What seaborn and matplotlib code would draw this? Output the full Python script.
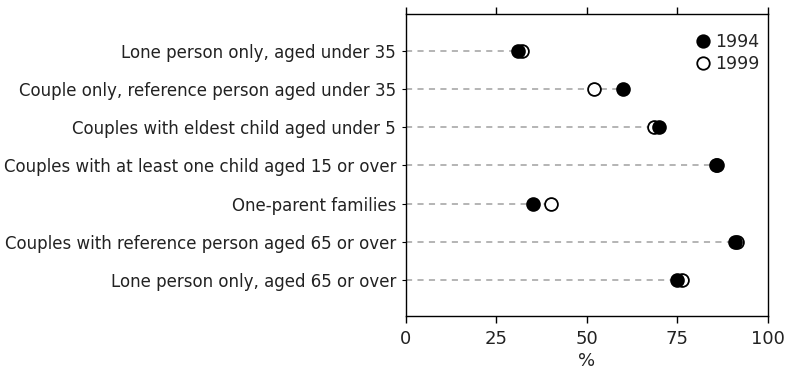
import matplotlib
matplotlib.use("Agg")
import matplotlib.pyplot as plt
import seaborn as sns
import pandas as pd
from matplotlib.lines import Line2D

categories = [
    "Lone person only, aged under 35",
    "Couple only, reference person aged under 35",
    "Couples with eldest child aged under 5",
    "Couples with at least one child aged 15 or over",
    "One-parent families",
    "Couples with reference person aged 65 or over",
    "Lone person only, aged 65 or over",
]
values_1994 = [31, 60, 70, 86, 35, 91, 75]
values_1999 = [32, 52, 68.5, 85.6, 40, 91.5, 76.3]
x_ticks = [0, 25, 50, 75, 100]

sns.set_theme(style="white")
plt.rcParams['font.family'] = ['DejaVu Sans']

df = pd.DataFrame({"cat": categories, "y1994": values_1994, "y1999": values_1999})
df["pos"] = range(len(df))
df["maxv"] = df[["y1994", "y1999"]].max(axis=1)

fig = plt.figure(figsize=(7.86, 3.71), dpi=100)
ax = fig.add_axes([0.5165, 0.148, 0.4605, 0.814])

for _, r in df.iterrows():
    ax.plot([0, r["maxv"]], [r["pos"], r["pos"]], color="#a0a0a0", lw=1.1,
            dashes=(4, 3.5), zorder=1)

sns.scatterplot(data=df, x="y1999", y="pos", ax=ax, s=85, color="white",
                edgecolor="black", linewidth=1.3, zorder=3, legend=False)
sns.scatterplot(data=df, x="y1994", y="pos", ax=ax, s=85, color="black",
                edgecolor="black", linewidth=1.3, zorder=4, legend=False)

ax.set_xlim(0, 100)
ax.set_ylim(6.95, -0.97)
ax.set_xticks(x_ticks)
ax.set_xticklabels([str(t) for t in x_ticks], fontsize=13, color="#222222")
ax.set_yticks(df["pos"])
ax.set_yticklabels(categories, fontsize=12, color="#222222")
ax.set_xlabel("%", fontsize=13, color="#222222", labelpad=3)
ax.set_ylabel("")
ax.tick_params(axis="x", which="both", direction="out", length=5, width=1,
               top=True, bottom=True, labeltop=False, color="black", pad=5)
ax.tick_params(axis="y", direction="out", length=3, width=0.8, left=True,
               color="black", pad=4)
for sp in ax.spines.values():
    sp.set_visible(True)
    sp.set_color("black")
    sp.set_linewidth(1.0)

handles = [
    Line2D([], [], marker="o", ls="", markersize=9, markerfacecolor="black",
           markeredgecolor="black", markeredgewidth=1.3),
    Line2D([], [], marker="o", ls="", markersize=9, markerfacecolor="white",
           markeredgecolor="black", markeredgewidth=1.3),
]
ax.legend(handles, ["1994", "1999"], loc="upper right", frameon=False,
          fontsize=12.5, handletextpad=0.2, labelspacing=0.2,
          borderaxespad=0.0, handlelength=1.0, bbox_to_anchor=(0.995, 0.96))

fig.savefig("out.png", dpi=100)
